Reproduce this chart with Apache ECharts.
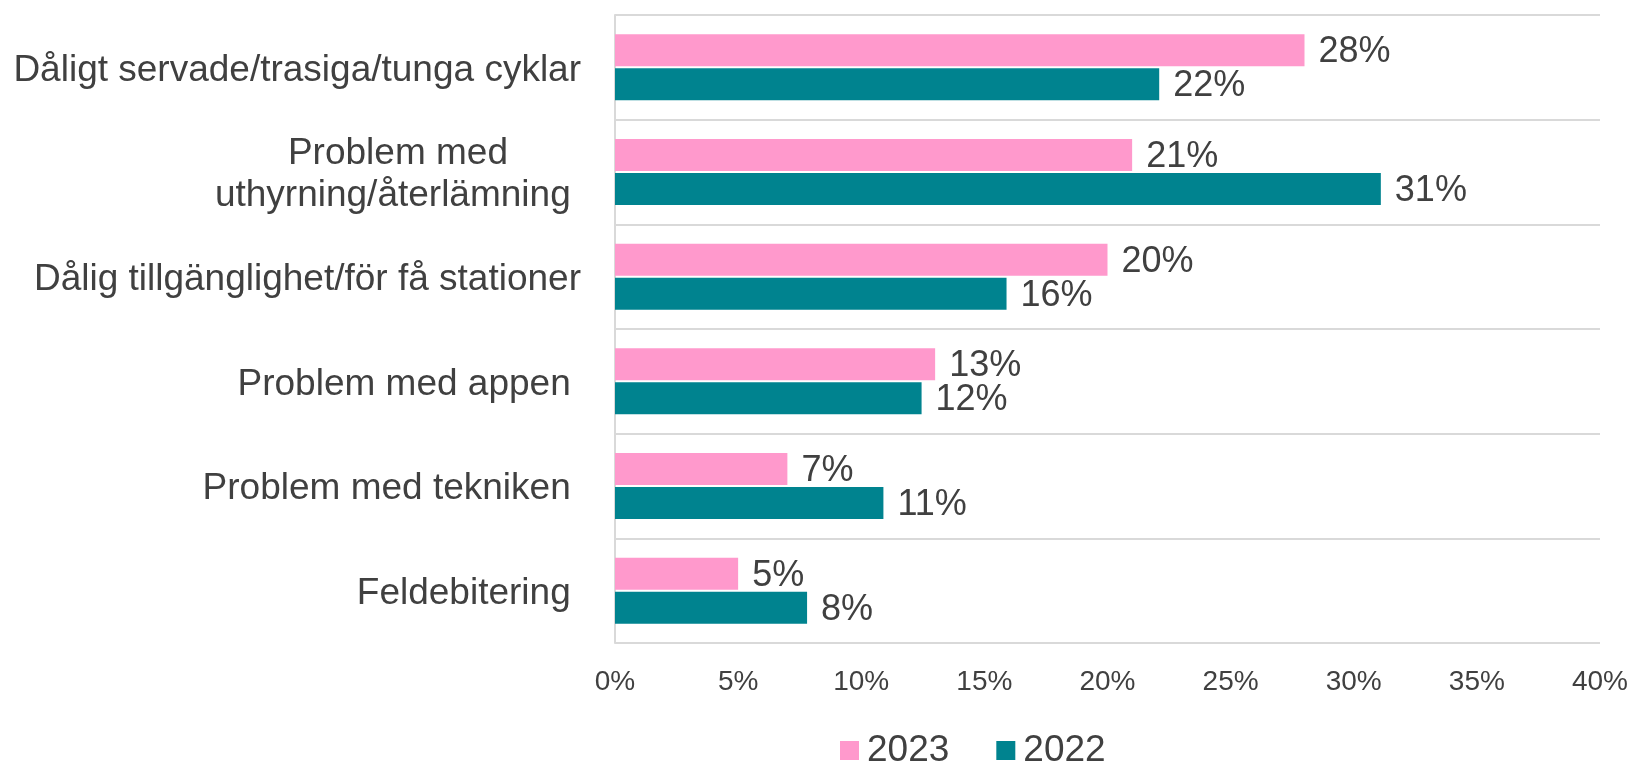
<!DOCTYPE html>
<html>
<head>
<meta charset="utf-8">
<script src="https://cdn.jsdelivr.net/npm/echarts@6/dist/echarts.min.js"></script>
<style>
html,body{margin:0;padding:0;background:#fff;}
#chart{width:1635px;height:762px;}
</style>
</head>
<body>
<div id="chart"></div>
<script>
const categories = [
  'Dåligt servade/trasiga/tunga cyklar',
  'Problem med\nuthyrning/återlämning ',
  'Dålig tillgänglighet/för få stationer',
  'Problem med appen ',
  'Problem med tekniken ',
  'Feldebitering '
];
const seriesNames = ['2023', '2022'];
const values2023 = [28.0, 21.0, 20.0, 13.0, 7.0, 5.0];
const values2022 = [22.1, 31.1, 15.9, 12.45, 10.9, 7.8];
const xTicks = [0, 5, 10, 15, 20, 25, 30, 35, 40];

const FONT = '"Liberation Sans", Arial, sans-serif';
const TEXT = '#404040';
const catFont = 37;

const mctx = document.createElement('canvas').getContext('2d');
mctx.font = catFont + 'px "Liberation Sans"';
function labelFormatter(v) {
  if (v.indexOf('\n') < 0) return v;
  const lines = v.split('\n');
  return lines.map(l => '{c|' + l + '}').join('\n');
}
let maxW = 0;
categories.forEach(c => {
  if (c.indexOf('\n') >= 0) c.split('\n').forEach(l => { maxW = Math.max(maxW, mctx.measureText(l).width); });
});

const chart = echarts.init(document.getElementById('chart'), null, {renderer: 'canvas'});
chart.setOption({
  animation: false,
  backgroundColor: '#ffffff',
  textStyle: {fontFamily: FONT},
  grid: {left: 615, top: 15, width: 985, height: 628, containLabel: false},
  legend: {
    data: seriesNames,
    left: 835,
    top: 727,
    icon: 'rect',
    itemWidth: 19,
    itemHeight: 19,
    itemGap: 47,
    textStyle: {fontSize: 37, color: TEXT, fontFamily: FONT, padding: [0, 0, 0, 3]}
  },
  xAxis: {
    type: 'value',
    min: xTicks[0],
    max: xTicks[xTicks.length - 1],
    interval: xTicks[1] - xTicks[0],
    axisLine: {show: false},
    axisTick: {show: false},
    splitLine: {show: false},
    axisLabel: {formatter: '{value}%', fontSize: 28, color: TEXT, fontFamily: FONT, margin: 25}
  },
  yAxis: {
    type: 'category',
    data: categories,
    inverse: true,
    axisLine: {show: true, lineStyle: {color: '#d9d9d9', width: 2}},
    axisTick: {show: false},
    splitLine: {show: true, lineStyle: {color: '#d9d9d9', width: 2}},
    axisLabel: {
      fontSize: catFont,
      color: TEXT,
      fontFamily: FONT,
      margin: 34,
      lineHeight: 42,
      padding: [6, 0, 0, 0],
      formatter: labelFormatter,
      rich: {
        c: {width: maxW, align: 'center', fontSize: catFont, lineHeight: 42, color: TEXT, fontFamily: FONT}
      }
    }
  },
  series: [
    {
      name: seriesNames[0],
      type: 'bar',
      data: values2023,
      barWidth: 32,
      barGap: '6%',
      itemStyle: {color: '#FF99CC'},
      label: {show: true, position: 'right', distance: 14, offset: [0, 2], fontSize: 36, color: TEXT, fontFamily: FONT,
        formatter: p => Math.round(p.value) + '%'}
    },
    {
      name: seriesNames[1],
      type: 'bar',
      data: values2022,
      barWidth: 32,
      barGap: '6%',
      itemStyle: {color: '#00838F'},
      label: {show: true, position: 'right', distance: 14, offset: [0, 2], fontSize: 36, color: TEXT, fontFamily: FONT,
        formatter: p => Math.round(p.value) + '%'}
    }
  ]
});
</script>
</body>
</html>
